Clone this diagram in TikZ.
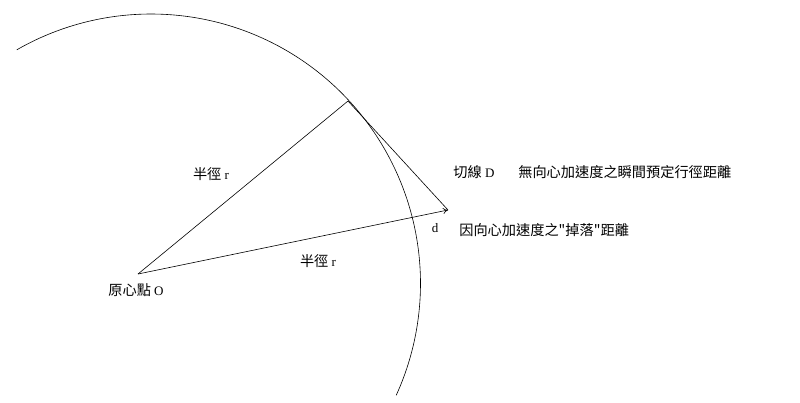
\documentclass[tikz,border=0pt]{standalone}
\usepackage{fontspec}
\setmainfont{Liberation Serif}
\newfontfamily\cjk{Noto Sans CJK TC}
\newcommand{\zh}[1]{{\cjk\fontsize{14.2}{16}\selectfont #1}}
\usetikzlibrary{arrows.meta}
\begin{document}
\begin{tikzpicture}[x=1pt, y=-1pt, line width=0.6pt]
        \useasboundingbox (0, 0) rectangle (800, 402);
        \tikzset{lbl/.style={inner sep=0pt, font=\fontsize{13}{15}\selectfont}}
        % arc of the path
        \draw[domain=-119.85:24.5, samples=120, smooth]
            plot ({151 + 269.5*cos(\x)}, {283.5 + 269.5*sin(\x)});
        \coordinate (O) at (138, 274);
        \coordinate (A) at (348, 101);
        \coordinate (B) at (448, 210);
        \draw (O) -- (A);
        \draw (A) -- (B);
        \draw[-{To[length=5pt, width=6pt]}] (O) -- (B);
        \node[lbl] (r1) at (211, 174) {\zh{半徑} r};
        \node[lbl] (r2) at (318, 261) {\zh{半徑} r};
        \node[lbl] (o) at (136, 290) {\zh{原心點} O};
        \node[lbl] (t) at (474, 172) {\zh{切線} D};
        \node[lbl, anchor=west] (t2) at (518, 172) {\zh{無向心加速度之瞬間預定行徑距離}};
        \node[lbl] (d) at (435, 228) {d};
        \node[lbl, anchor=west] (d2) at (459, 230) {\zh{因向心加速度之"掉落"距離}};
    \end{tikzpicture}
\end{document}
